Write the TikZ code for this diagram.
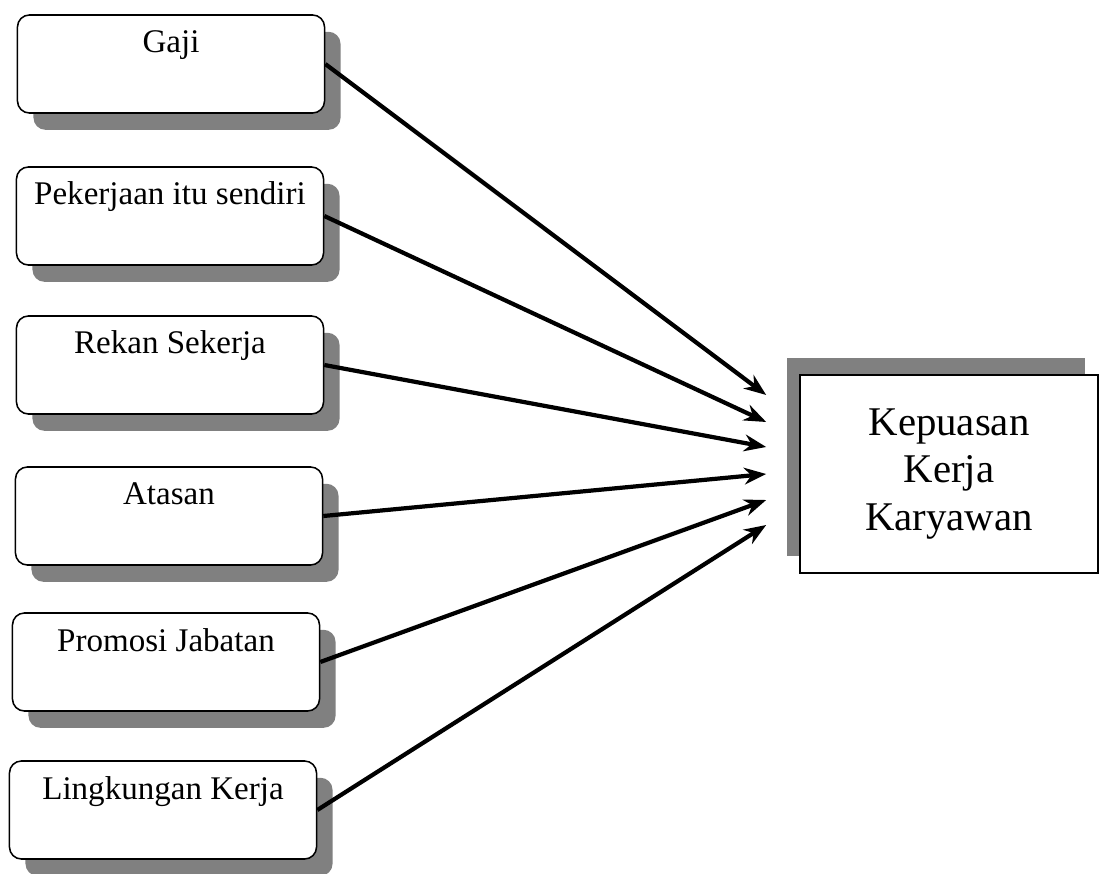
\documentclass[tikz,border=0pt]{standalone}
\usepackage{fontspec}
\setmainfont{Liberation Serif}
\usetikzlibrary{shadows,arrows.meta}

\begin{document}
\begin{tikzpicture}[x=0.025cm, y=-0.025cm,
  factor/.style={draw, line width=1.1pt, rounded corners=0.3cm, fill=white,
    minimum width=7.675cm, inner xsep=0pt, inner ysep=0pt,
    text height=0.95cm, text depth=1.5cm, font=\fontsize{23.5}{28}\selectfont,
    drop shadow={shadow xshift=0.4cm, shadow yshift=-0.42cm, fill=black!50, opacity=1}},
  result/.style={draw, line width=1.1pt, fill=white, align=center,
    minimum width=7.45cm, minimum height=4.95cm, font=\fontsize{29}{34}\selectfont,
    drop shadow={shadow xshift=-0.33cm, shadow yshift=0.42cm, fill=black!50, opacity=1}},
  arr/.style={-{Stealth[length=0.55cm, width=0.42cm]}, line width=3pt}]
%\draw[style=help lines, step=100] (0,0) grid (1100,874);
\useasboundingbox (0,0) rectangle (1100,874);

% faktor-faktor
\node[factor] (gaji) at (171,64) {Gaji};
\node[factor] (pekerjaan) at (170,216) {Pekerjaan itu sendiri};
\node[factor] (rekan) at (170,365) {Rekan Sekerja};
\node[factor] (atasan) at (169,516) {Atasan};
\node[factor] (promosi) at (166,662) {Promosi Jabatan};
\node[factor] (lingkungan) at (163,810) {Lingkungan Kerja};

% hasil
\node[result] (kepuasan) at (949,474) {Kepuasan\\Kerja\\Karyawan};

% panah
\draw[arr] (gaji.east) -- ([xshift=-0.825cm, yshift=1.975cm]kepuasan.west);
\draw[arr] (pekerjaan.east) -- ([xshift=-0.825cm, yshift=1.3cm]kepuasan.west);
\draw[arr] (rekan.east) -- ([xshift=-0.825cm, yshift=0.675cm]kepuasan.west);
\draw[arr] (atasan.east) -- ([xshift=-0.825cm]kepuasan.west);
\draw[arr] (promosi.east) -- ([xshift=-0.825cm, yshift=-0.65cm]kepuasan.west);
\draw[arr] (lingkungan.east) -- ([xshift=-0.825cm, yshift=-1.275cm]kepuasan.west);

\end{tikzpicture}
\end{document}
